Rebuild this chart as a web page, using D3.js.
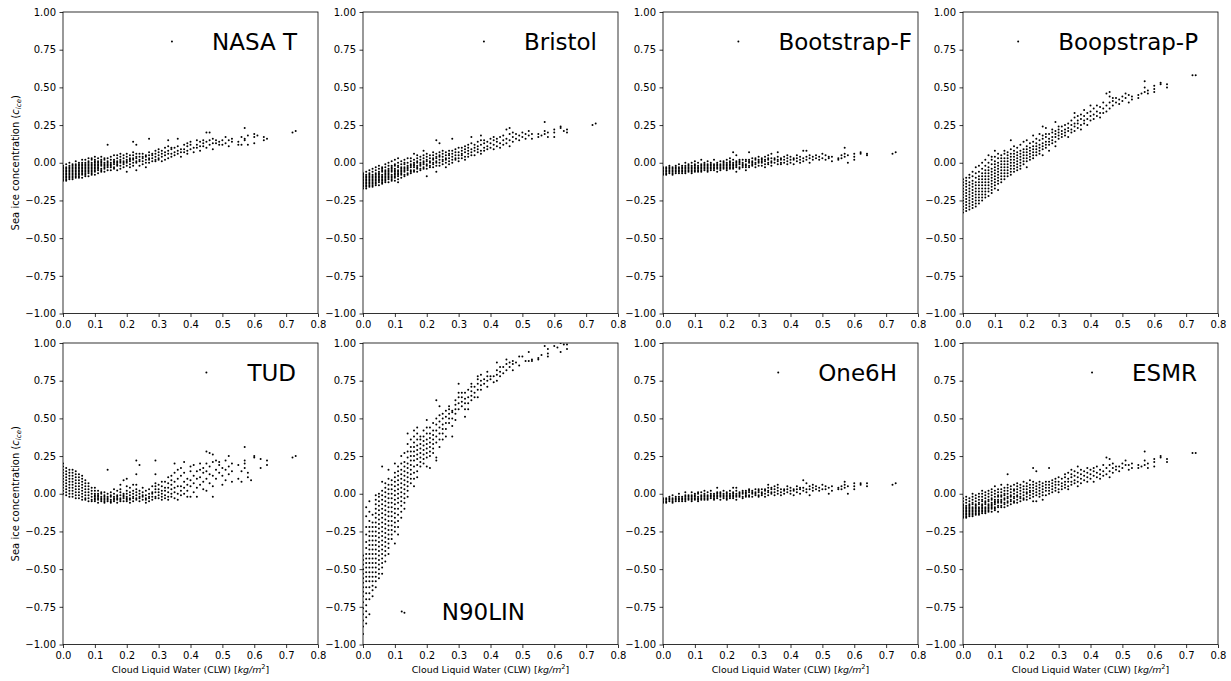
<!DOCTYPE html>
<html>
<head>
<meta charset="utf-8">
<script src="https://cdn.jsdelivr.net/npm/d3@7"></script>
<style>
  body { margin: 0; background: #fff; }
  text { font-family: "DejaVu Sans", sans-serif; }
</style>
</head>
<body>
<svg id="chart" width="1231" height="681"></svg>
<script>
// Axis ticks shared by all eight panels
const xTicks = [0, 0.1, 0.2, 0.3, 0.4, 0.5, 0.6, 0.7, 0.8];
const yTicks = [-1, -0.75, -0.5, -0.25, 0, 0.25, 0.5, 0.75, 1];

const panelNames = ["NASA T", "Bristol", "Bootstrap-F", "Boopstrap-P", "TUD", "N90LIN", "One6H", "ESMR"];

// Each row: [CLW, sea ice concentration values observed at that CLW ...]
const nasaT = [
  [0.00,-0.12,-0.11,-0.10,-0.09,-0.08,-0.07,-0.06,-0.05,-0.04,-0.03,-0.02],
  [0.01,-0.12,-0.11,-0.10,-0.09,-0.08,-0.07,-0.06,-0.05,-0.04,-0.03,-0.01],
  [0.02,-0.11,-0.10,-0.09,-0.08,-0.07,-0.06,-0.05,-0.04,-0.03,-0.02,0.00],
  [0.03,-0.11,-0.10,-0.09,-0.08,-0.07,-0.06,-0.05,-0.04,-0.03,-0.02,-0.01],
  [0.04,-0.10,-0.09,-0.08,-0.07,-0.06,-0.05,-0.04,-0.03,-0.02,-0.01,0.01],
  [0.05,-0.10,-0.09,-0.08,-0.07,-0.06,-0.05,-0.04,-0.03,-0.02,-0.01,0.00],
  [0.06,-0.10,-0.08,-0.07,-0.06,-0.05,-0.04,-0.03,-0.02,-0.01,0.00,0.02],
  [0.07,-0.09,-0.08,-0.07,-0.06,-0.05,-0.04,-0.03,-0.02,-0.01,0.00,0.02],
  [0.08,-0.09,-0.07,-0.06,-0.05,-0.04,-0.03,-0.02,-0.01,0.00,0.01,0.03],
  [0.09,-0.08,-0.07,-0.06,-0.05,-0.04,-0.03,-0.02,-0.01,0.00,0.02,0.03],
  [0.10,-0.08,-0.06,-0.05,-0.04,-0.03,-0.02,-0.01,0.00,0.01,0.02,0.04],
  [0.11,-0.07,-0.05,-0.04,-0.03,-0.02,-0.01,0.00,0.01,0.03],
  [0.12,-0.06,-0.05,-0.04,-0.02,-0.01,0.00,0.01,0.02,0.04],
  [0.13,-0.06,-0.04,-0.03,-0.02,-0.01,0.00,0.02,0.03],
  [0.14,-0.05,-0.03,-0.02,-0.01,0.00,0.01,0.03,0.12],
  [0.15,-0.05,-0.03,-0.02,-0.01,0.00,0.02,0.04],
  [0.16,-0.04,-0.03,-0.01,0.00,0.01,0.02,0.05],
  [0.17,-0.05,-0.02,-0.01,0.00,0.01,0.03,0.05],
  [0.18,-0.04,-0.02,0.00,0.01,0.02,0.04,0.06],
  [0.19,-0.03,-0.01,0.00,0.01,0.03,0.05],
  [0.20,-0.06,-0.02,0.00,0.01,0.02,0.04,0.06],
  [0.21,-0.03,-0.01,0.01,0.02,0.03,0.05],
  [0.22,-0.02,0.00,0.02,0.03,0.05,0.07,0.14],
  [0.23,-0.05,0.00,0.01,0.03,0.04,0.06,0.12],
  [0.24,-0.02,0.01,0.02,0.04,0.06],
  [0.25,-0.01,0.01,0.03,0.04,0.06],
  [0.26,-0.03,0.00,0.02,0.04,0.05],
  [0.27,0.00,0.02,0.03,0.05,0.07,0.16],
  [0.28,0.01,0.03,0.05,0.06],
  [0.29,0.01,0.02,0.04,0.06,0.08],
  [0.30,0.02,0.03,0.05,0.07,0.09],
  [0.31,0.01,0.04,0.06,0.08],
  [0.32,0.02,0.05,0.07,0.10],
  [0.33,0.03,0.06,0.08,0.11,0.15],
  [0.34,0.04,0.06,0.09,0.10],
  [0.35,0.05,0.07,0.10],
  [0.36,0.06,0.08,0.11,0.16],
  [0.37,0.04,0.07,0.09],
  [0.38,0.07,0.09,0.12],
  [0.39,0.06,0.08,0.11,0.13],
  [0.40,0.09,0.12,0.14],
  [0.41,0.07,0.10],
  [0.42,0.10,0.12,0.15],
  [0.43,0.08,0.11,0.14],
  [0.44,0.11,0.13,0.15],
  [0.45,0.10,0.14,0.20],
  [0.46,0.12,0.15,0.20],
  [0.47,0.09,0.13,0.16],
  [0.48,0.13,0.15],
  [0.49,0.12,0.14],
  [0.50,0.15,0.12],
  [0.51,0.17,0.13],
  [0.52,0.11,0.15],
  [0.53,0.14,0.16],
  [0.55,0.12,0.14],
  [0.56,0.17,0.12],
  [0.57,0.23,0.16,0.15],
  [0.58,0.18,0.12],
  [0.60,0.19,0.17,0.13],
  [0.61,0.18],
  [0.63,0.17,0.15],
  [0.64,0.16],
  [0.72,0.20],
  [0.73,0.21]
];

const bristol = [
  [0.00,-0.17,-0.16,-0.15,-0.14,-0.13,-0.12,-0.11,-0.10,-0.09,-0.08,-0.07],
  [0.01,-0.17,-0.16,-0.15,-0.14,-0.13,-0.12,-0.11,-0.10,-0.09,-0.08,-0.06],
  [0.02,-0.16,-0.15,-0.14,-0.13,-0.12,-0.11,-0.10,-0.09,-0.08,-0.07,-0.05],
  [0.03,-0.16,-0.15,-0.14,-0.13,-0.12,-0.11,-0.10,-0.09,-0.08,-0.06,-0.04],
  [0.04,-0.15,-0.14,-0.13,-0.12,-0.11,-0.10,-0.09,-0.08,-0.07,-0.05,-0.03],
  [0.05,-0.15,-0.13,-0.12,-0.11,-0.10,-0.09,-0.08,-0.07,-0.06,-0.04,-0.02],
  [0.06,-0.14,-0.13,-0.12,-0.11,-0.10,-0.09,-0.08,-0.06,-0.05,-0.04,-0.03],
  [0.07,-0.13,-0.12,-0.11,-0.10,-0.09,-0.08,-0.07,-0.06,-0.05,-0.03,-0.01],
  [0.08,-0.13,-0.11,-0.10,-0.09,-0.08,-0.07,-0.06,-0.05,-0.04,-0.02,0.00],
  [0.09,-0.12,-0.11,-0.10,-0.09,-0.08,-0.06,-0.05,-0.04,-0.03,-0.02,0.01],
  [0.10,-0.12,-0.10,-0.09,-0.08,-0.07,-0.06,-0.05,-0.04,-0.02,-0.01,0.02],
  [0.11,-0.13,-0.11,-0.09,-0.08,-0.07,-0.06,-0.05,-0.03,-0.02,0.00,0.03],
  [0.12,-0.10,-0.08,-0.07,-0.06,-0.05,-0.04,-0.03,-0.01,0.01],
  [0.13,-0.09,-0.08,-0.06,-0.05,-0.04,-0.03,-0.01,0.00,0.02],
  [0.14,-0.08,-0.07,-0.05,-0.04,-0.03,-0.02,0.00,0.03],
  [0.15,-0.07,-0.06,-0.05,-0.03,-0.02,-0.01,0.01,0.03],
  [0.16,-0.06,-0.05,-0.03,-0.02,-0.01,0.00,0.02,0.06],
  [0.17,-0.06,-0.04,-0.03,-0.02,0.00,0.01,0.03,0.05],
  [0.18,-0.05,-0.04,-0.02,-0.01,0.00,0.02,0.04],
  [0.19,-0.04,-0.03,-0.01,0.00,0.01,0.03,0.05,0.08],
  [0.20,-0.09,-0.04,-0.02,-0.01,0.01,0.02,0.04,0.06],
  [0.21,-0.03,-0.02,0.00,0.01,0.03,0.05],
  [0.22,-0.03,-0.01,0.00,0.02,0.03,0.05,0.07],
  [0.23,-0.06,-0.02,0.00,0.01,0.03,0.04,0.06,0.15],
  [0.24,-0.02,0.00,0.02,0.04,0.05,0.07,0.13],
  [0.25,-0.01,0.01,0.02,0.04,0.06,0.08],
  [0.26,-0.03,0.00,0.02,0.03,0.05,0.07],
  [0.27,-0.01,0.01,0.03,0.05,0.06,0.08],
  [0.28,0.00,0.02,0.04,0.06,0.08,0.16],
  [0.29,0.02,0.03,0.05,0.07,0.09],
  [0.30,0.01,0.03,0.05,0.07,0.10],
  [0.31,0.03,0.05,0.06,0.08,0.10],
  [0.32,0.02,0.04,0.07,0.09,0.11],
  [0.33,0.04,0.06,0.08,0.10,0.12],
  [0.34,0.05,0.07,0.09,0.13,0.17],
  [0.35,0.05,0.08,0.10,0.12],
  [0.36,0.07,0.09,0.11,0.14],
  [0.37,0.06,0.08,0.12,0.15,0.18],
  [0.38,0.08,0.10,0.13,0.15],
  [0.39,0.09,0.11,0.14],
  [0.40,0.10,0.13,0.16],
  [0.41,0.09,0.12,0.15,0.17],
  [0.42,0.11,0.14,0.16],
  [0.43,0.10,0.13,0.17],
  [0.44,0.12,0.15,0.18],
  [0.45,0.13,0.16,0.22],
  [0.46,0.11,0.15,0.19,0.23],
  [0.47,0.14,0.17,0.20],
  [0.48,0.16,0.19],
  [0.49,0.15,0.18],
  [0.50,0.17,0.20],
  [0.51,0.19,0.16],
  [0.52,0.18,0.21],
  [0.53,0.16,0.19],
  [0.55,0.17,0.19],
  [0.56,0.18],
  [0.57,0.27,0.21,0.19],
  [0.58,0.20,0.17],
  [0.60,0.22,0.20,0.17],
  [0.62,0.24,0.23],
  [0.63,0.21],
  [0.64,0.22,0.20],
  [0.72,0.25],
  [0.73,0.26]
];

const bootstrapF = [
  [0.00,-0.08,-0.07,-0.06,-0.05,-0.04,-0.03],
  [0.01,-0.08,-0.07,-0.06,-0.05,-0.04,-0.03],
  [0.02,-0.07,-0.06,-0.05,-0.04,-0.03,-0.02],
  [0.03,-0.08,-0.07,-0.06,-0.05,-0.04,-0.03],
  [0.04,-0.07,-0.06,-0.05,-0.04,-0.03,-0.02],
  [0.05,-0.07,-0.06,-0.05,-0.04,-0.03,-0.01],
  [0.06,-0.07,-0.06,-0.05,-0.04,-0.03,-0.02],
  [0.07,-0.07,-0.06,-0.05,-0.04,-0.03,-0.02,0.00],
  [0.08,-0.06,-0.05,-0.04,-0.03,-0.02,-0.01],
  [0.09,-0.07,-0.06,-0.05,-0.04,-0.03,-0.02,0.00],
  [0.10,-0.06,-0.05,-0.04,-0.03,-0.02,-0.01,0.01],
  [0.11,-0.06,-0.05,-0.04,-0.03,-0.02,0.00],
  [0.12,-0.06,-0.05,-0.04,-0.03,-0.02,-0.01,0.02],
  [0.13,-0.05,-0.04,-0.03,-0.02,-0.01,0.00],
  [0.14,-0.06,-0.05,-0.04,-0.03,-0.02,-0.01,0.01],
  [0.15,-0.05,-0.04,-0.03,-0.02,-0.01,0.00],
  [0.16,-0.05,-0.04,-0.03,-0.02,-0.01,0.02],
  [0.17,-0.06,-0.04,-0.03,-0.02,-0.01,0.00],
  [0.18,-0.05,-0.04,-0.03,-0.02,-0.01,0.01],
  [0.19,-0.04,-0.03,-0.02,-0.01,0.00,0.01],
  [0.20,-0.05,-0.04,-0.03,-0.02,-0.01,0.00,0.02],
  [0.21,-0.04,-0.03,-0.02,-0.01,0.00,0.01,0.03],
  [0.22,-0.04,-0.03,-0.02,-0.01,0.00,0.02,0.07],
  [0.23,-0.06,-0.03,-0.02,-0.01,0.00,0.01,0.05],
  [0.24,-0.04,-0.03,-0.01,0.00,0.01,0.02],
  [0.25,-0.03,-0.02,-0.01,0.00,0.02],
  [0.26,-0.05,-0.03,-0.02,-0.01,0.01,0.02],
  [0.27,-0.03,-0.02,0.00,0.01,0.02,0.07],
  [0.28,-0.02,-0.01,0.00,0.01,0.03],
  [0.29,-0.03,-0.01,0.00,0.02,0.03],
  [0.30,-0.02,0.00,0.01,0.02,0.04],
  [0.31,-0.02,0.00,0.01,0.02,0.03],
  [0.32,-0.03,-0.01,0.01,0.02,0.04],
  [0.33,-0.01,0.00,0.02,0.03,0.05],
  [0.34,-0.02,0.00,0.01,0.03,0.06],
  [0.35,0.00,0.02,0.03],
  [0.36,-0.01,0.01,0.02,0.04,0.07],
  [0.37,-0.01,0.00,0.02,0.03],
  [0.38,0.00,0.02,0.04],
  [0.39,-0.01,0.01,0.03,0.05],
  [0.40,0.00,0.02,0.04],
  [0.41,-0.01,0.02,0.03],
  [0.42,0.01,0.03,0.05],
  [0.43,0.00,0.02,0.04],
  [0.44,0.01,0.03,0.08],
  [0.45,0.02,0.04,0.08],
  [0.46,0.00,0.03,0.05],
  [0.47,0.02,0.04],
  [0.48,0.03,0.05],
  [0.49,0.02,0.04],
  [0.50,0.03,0.06],
  [0.51,0.05,0.02],
  [0.52,0.04,0.03],
  [0.53,0.01,0.04],
  [0.55,0.02,0.03],
  [0.56,0.05,0.03],
  [0.57,0.10,0.06,0.04],
  [0.58,0.05,0.00],
  [0.60,0.06,0.04,0.02],
  [0.62,0.07,0.06],
  [0.64,0.06,0.05],
  [0.72,0.06],
  [0.73,0.07]
];

const boopstrapP = [
  [0.00,-0.33,-0.31,-0.29,-0.27,-0.25,-0.23,-0.21,-0.19,-0.17,-0.15,-0.13,-0.11],
  [0.01,-0.32,-0.30,-0.28,-0.26,-0.24,-0.22,-0.20,-0.18,-0.16,-0.14,-0.12,-0.10],
  [0.02,-0.31,-0.29,-0.27,-0.25,-0.23,-0.21,-0.19,-0.17,-0.15,-0.13,-0.10,-0.08],
  [0.03,-0.30,-0.28,-0.26,-0.24,-0.22,-0.20,-0.18,-0.16,-0.14,-0.12,-0.09,-0.06],
  [0.04,-0.29,-0.27,-0.25,-0.23,-0.21,-0.19,-0.17,-0.15,-0.13,-0.10,-0.07,-0.03],
  [0.05,-0.27,-0.25,-0.23,-0.21,-0.19,-0.17,-0.15,-0.13,-0.11,-0.09,-0.06,-0.02],
  [0.06,-0.25,-0.23,-0.21,-0.19,-0.17,-0.15,-0.13,-0.11,-0.09,-0.07,-0.04,0.00],
  [0.07,-0.23,-0.21,-0.19,-0.17,-0.15,-0.13,-0.11,-0.09,-0.07,-0.05,-0.02,0.02],
  [0.08,-0.22,-0.19,-0.17,-0.15,-0.13,-0.11,-0.09,-0.07,-0.05,-0.03,0.00,0.05],
  [0.09,-0.20,-0.18,-0.16,-0.14,-0.12,-0.10,-0.08,-0.06,-0.04,-0.01,0.02,0.04],
  [0.10,-0.17,-0.15,-0.13,-0.11,-0.09,-0.07,-0.05,-0.03,-0.01,0.01,0.04,0.08],
  [0.11,-0.18,-0.14,-0.12,-0.10,-0.08,-0.06,-0.04,-0.02,0.00,0.03,0.06],
  [0.12,-0.13,-0.11,-0.09,-0.07,-0.05,-0.03,-0.01,0.01,0.03,0.05],
  [0.13,-0.11,-0.09,-0.07,-0.05,-0.03,-0.01,0.01,0.03,0.06,0.08],
  [0.14,-0.09,-0.07,-0.05,-0.03,-0.01,0.01,0.03,0.05,0.07],
  [0.15,-0.08,-0.06,-0.04,-0.02,0.00,0.02,0.04,0.06,0.09,0.15],
  [0.16,-0.06,-0.04,-0.02,0.00,0.02,0.04,0.06,0.08,0.11],
  [0.17,-0.05,-0.03,-0.01,0.01,0.03,0.05,0.07,0.10],
  [0.18,-0.04,-0.02,0.00,0.02,0.04,0.06,0.08,0.12],
  [0.19,-0.01,0.01,0.03,0.05,0.07,0.09,0.14],
  [0.20,-0.03,0.01,0.03,0.05,0.07,0.09,0.11,0.15],
  [0.21,0.02,0.04,0.06,0.08,0.10,0.13],
  [0.22,0.03,0.05,0.07,0.09,0.11,0.14,0.18],
  [0.23,0.05,0.07,0.09,0.11,0.13,0.16],
  [0.24,0.06,0.08,0.10,0.12,0.15,0.19],
  [0.25,0.05,0.09,0.11,0.13,0.16,0.18,0.24],
  [0.26,0.10,0.12,0.14,0.17,0.19,0.23],
  [0.27,0.08,0.12,0.14,0.16,0.19],
  [0.28,0.13,0.15,0.17,0.20,0.22],
  [0.29,0.11,0.14,0.17,0.19,0.21,0.27],
  [0.30,0.16,0.18,0.20,0.22,0.24],
  [0.31,0.17,0.19,0.21,0.24],
  [0.32,0.18,0.20,0.22,0.25],
  [0.33,0.17,0.21,0.23,0.26],
  [0.34,0.20,0.22,0.25,0.28],
  [0.35,0.21,0.24,0.26,0.30,0.33],
  [0.36,0.23,0.26,0.28,0.31],
  [0.37,0.22,0.25,0.29,0.32],
  [0.38,0.26,0.28,0.31,0.35],
  [0.39,0.25,0.29,0.33],
  [0.40,0.28,0.31,0.34,0.38],
  [0.41,0.29,0.32,0.36],
  [0.42,0.31,0.34,0.38],
  [0.43,0.30,0.33,0.37],
  [0.44,0.33,0.36,0.40],
  [0.45,0.34,0.38,0.46],
  [0.46,0.36,0.40,0.44,0.47],
  [0.47,0.38,0.41,0.43],
  [0.48,0.40,0.43],
  [0.49,0.39,0.42],
  [0.50,0.41,0.44],
  [0.51,0.43,0.46],
  [0.52,0.40,0.45],
  [0.53,0.42,0.44],
  [0.55,0.45,0.43],
  [0.56,0.46],
  [0.57,0.54,0.50,0.47],
  [0.58,0.48,0.46],
  [0.60,0.51,0.49,0.47],
  [0.62,0.53,0.52],
  [0.64,0.52,0.50],
  [0.72,0.58],
  [0.73,0.58]
];

const tud = [
  [0.00,0.00,0.02,0.04,0.06,0.08,0.10,0.12,0.14,0.16,0.18,0.20],
  [0.01,-0.01,0.01,0.03,0.05,0.07,0.09,0.11,0.13,0.15,0.17],
  [0.02,-0.02,0.00,0.02,0.04,0.06,0.08,0.10,0.12,0.14,0.16],
  [0.03,-0.02,0.00,0.02,0.04,0.06,0.08,0.10,0.12,0.14,0.16],
  [0.04,-0.03,-0.01,0.01,0.03,0.05,0.07,0.09,0.11,0.13,0.15],
  [0.05,-0.03,-0.01,0.01,0.03,0.05,0.07,0.09,0.11,0.13],
  [0.06,-0.04,-0.02,0.00,0.02,0.04,0.06,0.08,0.10,0.12],
  [0.07,-0.04,-0.03,-0.01,0.01,0.03,0.05,0.07,0.09],
  [0.08,-0.05,-0.03,-0.01,0.01,0.03,0.05,0.07],
  [0.09,-0.05,-0.04,-0.02,0.00,0.02,0.04],
  [0.10,-0.05,-0.04,-0.03,-0.02,-0.01,0.00,0.02,0.04],
  [0.11,-0.06,-0.04,-0.03,-0.02,-0.01,0.00,0.02],
  [0.12,-0.05,-0.04,-0.03,-0.02,0.00,0.01],
  [0.13,-0.06,-0.05,-0.04,-0.03,-0.02,-0.01,0.01],
  [0.14,-0.05,-0.04,-0.03,-0.02,0.00,0.16],
  [0.15,-0.06,-0.05,-0.04,-0.02,-0.01,0.01],
  [0.16,-0.05,-0.04,-0.03,-0.02,0.00,0.03],
  [0.17,-0.06,-0.04,-0.03,-0.02,-0.01,0.02],
  [0.18,-0.05,-0.04,-0.03,-0.01,0.01,0.03,0.06],
  [0.19,-0.05,-0.03,-0.02,-0.01,0.00,0.09],
  [0.20,-0.05,-0.04,-0.03,-0.02,0.00,0.02,0.05,0.10],
  [0.21,-0.06,-0.04,-0.03,-0.01,0.01,0.04],
  [0.22,-0.05,-0.03,-0.02,0.00,0.02,0.06],
  [0.23,-0.04,-0.03,-0.01,0.01,0.03,0.06,0.13,0.22],
  [0.24,-0.05,-0.03,-0.02,0.00,0.02,0.19],
  [0.25,-0.04,-0.02,-0.01,0.01,0.04],
  [0.26,-0.06,-0.04,-0.03,-0.01,0.02],
  [0.27,-0.05,-0.03,-0.02,0.00,0.03],
  [0.28,-0.04,-0.02,0.00,0.01,0.05],
  [0.29,-0.03,-0.02,0.01,0.03,0.05,0.07,0.13,0.22],
  [0.30,-0.03,-0.01,0.01,0.03,0.06],
  [0.31,-0.04,-0.02,0.00,0.02,0.05,0.08],
  [0.32,-0.03,-0.01,0.02,0.04,0.08],
  [0.33,-0.04,-0.02,0.01,0.04,0.07,0.11],
  [0.34,-0.02,0.00,0.03,0.06,0.09,0.12],
  [0.35,-0.03,0.01,0.04,0.08,0.14,0.20],
  [0.36,-0.04,0.00,0.05,0.10,0.16],
  [0.37,-0.01,0.02,0.05,0.12,0.17],
  [0.38,0.00,0.04,0.08,0.14,0.21],
  [0.39,-0.02,0.02,0.06,0.10],
  [0.40,-0.02,0.05,0.09,0.15,0.18],
  [0.41,0.01,0.07,0.12,0.19],
  [0.42,-0.02,0.04,0.10,0.15],
  [0.43,0.06,0.11,0.16,0.20],
  [0.44,0.03,0.08,0.14,0.17],
  [0.45,0.02,0.10,0.15,0.20,0.28],
  [0.46,0.07,0.13,0.18,0.27],
  [0.47,-0.02,0.05,0.12,0.21,0.26],
  [0.48,0.10,0.16,0.22],
  [0.49,0.14,0.19,0.21],
  [0.50,0.06,0.12,0.17],
  [0.51,0.09,0.16,0.22],
  [0.52,0.13,0.18,0.25],
  [0.53,0.08,0.15,0.20],
  [0.55,0.10,0.19],
  [0.56,0.08,0.15],
  [0.57,0.31,0.22,0.20,0.17],
  [0.58,0.14,0.11],
  [0.59,0.09],
  [0.60,0.25,0.24],
  [0.62,0.23,0.17],
  [0.64,0.22,0.19],
  [0.72,0.24],
  [0.73,0.25]
];

const n90lin = [
  [0.00,-0.93,-0.88,-0.84,-0.80,-0.76,-0.72,-0.68,-0.65,-0.62,-0.59,-0.56,-0.53,-0.50,-0.47,-0.44,-0.41],
  [0.01,-0.86,-0.82,-0.78,-0.74,-0.70,-0.66,-0.62,-0.58,-0.55,-0.52,-0.49,-0.46,-0.43,-0.40,-0.36,-0.32,-0.27,-0.22,-0.15,-0.09],
  [0.02,-0.80,-0.70,-0.66,-0.62,-0.58,-0.55,-0.52,-0.49,-0.46,-0.43,-0.40,-0.37,-0.34,-0.31,-0.28,-0.25,-0.22,-0.18,-0.12,-0.05],
  [0.03,-0.68,-0.64,-0.61,-0.58,-0.55,-0.52,-0.49,-0.46,-0.43,-0.40,-0.37,-0.34,-0.31,-0.28,-0.25,-0.22,-0.19,-0.14],
  [0.04,-0.62,-0.58,-0.55,-0.52,-0.49,-0.46,-0.43,-0.40,-0.37,-0.34,-0.31,-0.28,-0.25,-0.22,-0.19,-0.16,-0.13,-0.10,-0.07,-0.04,-0.01],
  [0.05,-0.56,-0.53,-0.50,-0.47,-0.44,-0.41,-0.38,-0.35,-0.32,-0.29,-0.26,-0.23,-0.20,-0.17,-0.14,-0.11,-0.08,-0.05,-0.02,0.00],
  [0.06,-0.53,-0.49,-0.46,-0.43,-0.40,-0.37,-0.34,-0.31,-0.28,-0.25,-0.22,-0.19,-0.16,-0.13,-0.10,-0.07,-0.04,-0.01,0.02,0.08,0.18],
  [0.07,-0.45,-0.41,-0.38,-0.35,-0.32,-0.29,-0.26,-0.23,-0.20,-0.17,-0.14,-0.11,-0.08,-0.05,-0.02,0.01,0.04,0.07],
  [0.08,-0.40,-0.36,-0.33,-0.30,-0.27,-0.24,-0.21,-0.18,-0.15,-0.12,-0.09,-0.06,-0.03,0.00,0.03,0.06,0.10,0.16],
  [0.09,-0.30,-0.27,-0.24,-0.21,-0.18,-0.15,-0.12,-0.09,-0.06,-0.03,0.00,0.03,0.06,0.09],
  [0.10,-0.33,-0.25,-0.22,-0.19,-0.16,-0.13,-0.10,-0.07,-0.04,-0.01,0.02,0.05,0.08,0.11,0.14,0.20],
  [0.11,-0.27,-0.22,-0.18,-0.14,-0.10,-0.06,-0.03,0.00,0.03,0.06,0.09,0.12,0.15,0.18],
  [0.12,-0.16,-0.12,-0.08,-0.05,-0.02,0.01,0.04,0.07,0.10,0.13,0.16,0.20,0.25],
  [0.13,-0.79,-0.10,-0.06,-0.03,0.00,0.03,0.06,0.09,0.12,0.15,0.18,0.21,0.27],
  [0.14,-0.02,0.02,0.05,0.08,0.11,0.14,0.17,0.20,0.24,0.28,0.33,0.40],
  [0.15,0.07,0.10,0.13,0.16,0.19,0.22,0.25,0.28,0.31,0.36],
  [0.16,0.05,0.10,0.14,0.18,0.22,0.25,0.28,0.31,0.34,0.38,0.42],
  [0.17,0.11,0.15,0.19,0.23,0.26,0.29,0.32,0.36,0.40,0.44],
  [0.18,0.18,0.21,0.24,0.27,0.30,0.33,0.36,0.38],
  [0.19,0.20,0.23,0.26,0.29,0.32,0.35,0.38,0.42],
  [0.20,0.18,0.24,0.27,0.30,0.33,0.36,0.40,0.44,0.49],
  [0.21,0.17,0.25,0.28,0.31,0.34,0.37,0.40,0.44],
  [0.22,0.27,0.30,0.33,0.36,0.39,0.42,0.47],
  [0.23,0.22,0.24,0.34,0.38,0.42,0.46,0.50,0.62],
  [0.24,0.31,0.36,0.40,0.44,0.48,0.52,0.58],
  [0.25,0.36,0.40,0.43,0.46,0.50,0.53],
  [0.26,0.38,0.43,0.47,0.51,0.55],
  [0.27,0.47,0.50,0.53,0.56,0.58],
  [0.28,0.38,0.45,0.50,0.54,0.55],
  [0.29,0.49,0.53,0.56,0.59,0.62],
  [0.30,0.56,0.60,0.64,0.67,0.73],
  [0.31,0.58,0.61,0.64,0.67],
  [0.32,0.51,0.56,0.60,0.63,0.67],
  [0.33,0.56,0.60,0.64,0.69],
  [0.34,0.62,0.65,0.68,0.71,0.73],
  [0.35,0.64,0.67,0.71],
  [0.36,0.64,0.69,0.73,0.76,0.78],
  [0.37,0.69,0.72,0.75,0.79],
  [0.38,0.73,0.76],
  [0.39,0.71,0.75,0.78,0.81],
  [0.40,0.76,0.78],
  [0.41,0.78,0.74],
  [0.42,0.75,0.79,0.82,0.87],
  [0.43,0.78,0.81,0.84],
  [0.44,0.80,0.84],
  [0.45,0.82,0.86,0.89],
  [0.46,0.84,0.87],
  [0.47,0.82,0.86,0.88],
  [0.48,0.87],
  [0.49,0.85,0.91],
  [0.50,0.91],
  [0.51,0.88],
  [0.52,0.94,0.88],
  [0.53,0.89,0.88],
  [0.55,0.90,0.89],
  [0.56,0.92],
  [0.57,0.98],
  [0.58,0.96,0.93,0.91],
  [0.60,0.98],
  [0.61,0.97],
  [0.62,1.00,0.94],
  [0.63,0.99],
  [0.64,0.99,0.96]
];

const one6H = [
  [0.00,-0.06,-0.05,-0.04,-0.03],
  [0.01,-0.06,-0.05,-0.04,-0.03],
  [0.02,-0.05,-0.04,-0.03,-0.02],
  [0.03,-0.06,-0.05,-0.04,-0.03,-0.01],
  [0.04,-0.05,-0.04,-0.03,-0.02],
  [0.05,-0.05,-0.04,-0.03,-0.02,0.00],
  [0.06,-0.05,-0.04,-0.03,-0.02],
  [0.07,-0.05,-0.04,-0.03,-0.02,-0.01,0.01],
  [0.08,-0.04,-0.03,-0.02,-0.01],
  [0.09,-0.05,-0.04,-0.03,-0.02,-0.01,0.01],
  [0.10,-0.04,-0.03,-0.02,-0.01,0.00],
  [0.11,-0.05,-0.04,-0.03,-0.02,0.00,0.01],
  [0.12,-0.04,-0.03,-0.02,-0.01,0.01],
  [0.13,-0.04,-0.03,-0.02,-0.01,0.00,0.02],
  [0.14,-0.04,-0.03,-0.02,-0.01,0.01],
  [0.15,-0.03,-0.02,-0.01,0.00,0.02],
  [0.16,-0.04,-0.03,-0.02,-0.01,0.00],
  [0.17,-0.03,-0.02,-0.01,0.00,0.01,0.04],
  [0.18,-0.04,-0.02,-0.01,0.00,0.01],
  [0.19,-0.03,-0.02,-0.01,0.00,0.02],
  [0.20,-0.04,-0.03,-0.02,-0.01,0.00,0.01],
  [0.21,-0.03,-0.02,-0.01,0.00,0.02],
  [0.22,-0.03,-0.02,-0.01,0.00,0.01,0.04],
  [0.23,-0.04,-0.02,-0.01,0.00,0.02,0.04],
  [0.24,-0.02,-0.01,0.00,0.01],
  [0.25,-0.03,-0.02,0.00,0.01,0.02],
  [0.26,-0.02,-0.01,0.00,0.01,0.02],
  [0.27,-0.02,-0.01,0.01,0.02,0.03],
  [0.28,-0.02,0.00,0.01,0.02],
  [0.29,-0.01,0.00,0.01,0.03],
  [0.30,-0.02,-0.01,0.01,0.02,0.03],
  [0.31,-0.01,0.00,0.01,0.03],
  [0.32,-0.02,0.00,0.02,0.03],
  [0.33,-0.01,0.01,0.02,0.04,0.06],
  [0.34,0.00,0.01,0.03,0.04],
  [0.35,-0.01,0.01,0.03,0.05],
  [0.36,0.00,0.02,0.04,0.06],
  [0.37,-0.01,0.01,0.03],
  [0.38,0.00,0.02,0.03],
  [0.39,0.01,0.03,0.05],
  [0.40,0.00,0.02,0.04],
  [0.41,-0.01,0.02,0.03],
  [0.42,0.01,0.03,0.05],
  [0.43,0.00,0.03,0.04],
  [0.44,0.02,0.04,0.09],
  [0.45,0.01,0.03,0.07],
  [0.46,-0.01,0.03,0.05],
  [0.47,0.02,0.04,0.06],
  [0.48,0.03,0.05],
  [0.49,0.02,0.04],
  [0.50,0.03,0.06],
  [0.51,0.05,0.03],
  [0.52,0.00,0.04],
  [0.53,0.02,0.05],
  [0.55,0.03,0.04],
  [0.56,0.05,0.03],
  [0.57,0.08,0.06,0.04],
  [0.58,0.05,0.00],
  [0.60,0.07,0.05,0.03],
  [0.62,0.07,0.06],
  [0.64,0.07,0.05],
  [0.72,0.06],
  [0.73,0.07]
];

const esmr = [
  [0.00,-0.16,-0.15,-0.14,-0.13,-0.12,-0.11,-0.10,-0.09,-0.08,-0.07,-0.05,-0.03],
  [0.01,-0.16,-0.15,-0.14,-0.13,-0.12,-0.11,-0.10,-0.09,-0.08,-0.06,-0.04,-0.02],
  [0.02,-0.15,-0.14,-0.13,-0.12,-0.11,-0.10,-0.09,-0.08,-0.07,-0.05,-0.03],
  [0.03,-0.15,-0.14,-0.13,-0.12,-0.11,-0.10,-0.09,-0.07,-0.06,-0.04,-0.02,0.00],
  [0.04,-0.14,-0.13,-0.12,-0.11,-0.10,-0.09,-0.08,-0.07,-0.05,-0.03,-0.01],
  [0.05,-0.14,-0.13,-0.12,-0.11,-0.10,-0.09,-0.07,-0.06,-0.04,-0.02,0.00],
  [0.06,-0.13,-0.12,-0.11,-0.10,-0.09,-0.08,-0.07,-0.05,-0.04,-0.02,0.00,0.02],
  [0.07,-0.13,-0.12,-0.11,-0.10,-0.09,-0.07,-0.06,-0.05,-0.03,-0.01,0.01],
  [0.08,-0.12,-0.11,-0.10,-0.09,-0.08,-0.07,-0.05,-0.04,-0.02,0.00,0.02],
  [0.09,-0.12,-0.10,-0.09,-0.08,-0.07,-0.06,-0.04,-0.03,-0.01,0.01,0.03],
  [0.10,-0.11,-0.10,-0.09,-0.07,-0.06,-0.05,-0.04,-0.02,0.00,0.02,0.05],
  [0.11,-0.12,-0.09,-0.08,-0.06,-0.05,-0.04,-0.02,-0.01,0.01,0.03],
  [0.12,-0.09,-0.08,-0.06,-0.05,-0.04,-0.02,-0.01,0.01,0.03,0.06],
  [0.13,-0.09,-0.07,-0.06,-0.04,-0.03,-0.01,0.00,0.02,0.04],
  [0.14,-0.08,-0.06,-0.05,-0.03,-0.02,0.00,0.02,0.04,0.06,0.13],
  [0.15,-0.07,-0.05,-0.04,-0.02,-0.01,0.01,0.03,0.05],
  [0.16,-0.06,-0.05,-0.03,-0.02,0.00,0.02,0.03,0.06],
  [0.17,-0.06,-0.04,-0.02,-0.01,0.01,0.03,0.05,0.07],
  [0.18,-0.05,-0.03,-0.02,0.00,0.02,0.04,0.06],
  [0.19,-0.04,-0.03,-0.01,0.01,0.03,0.05,0.08],
  [0.20,-0.04,-0.02,0.00,0.01,0.03,0.05,0.07],
  [0.21,-0.03,-0.01,0.01,0.02,0.04,0.06,0.09],
  [0.22,-0.05,-0.02,0.00,0.02,0.04,0.06,0.08,0.17],
  [0.23,-0.05,-0.01,0.01,0.03,0.05,0.07,0.15],
  [0.24,-0.02,0.00,0.02,0.04,0.06,0.08],
  [0.25,-0.04,-0.01,0.01,0.03,0.05,0.07],
  [0.26,-0.01,0.02,0.04,0.06,0.08],
  [0.27,0.00,0.02,0.04,0.06,0.08,0.17],
  [0.28,0.01,0.03,0.05,0.07,0.09],
  [0.29,0.02,0.04,0.06,0.08,0.10],
  [0.30,0.01,0.03,0.06,0.08,0.11],
  [0.31,0.03,0.05,0.07,0.10],
  [0.32,0.04,0.06,0.08,0.11,0.13],
  [0.33,0.03,0.05,0.08,0.10,0.14],
  [0.34,0.06,0.08,0.11,0.13,0.16],
  [0.35,0.07,0.09,0.12,0.15],
  [0.36,0.05,0.08,0.11,0.14,0.18],
  [0.37,0.07,0.10,0.13,0.16],
  [0.38,0.09,0.12,0.15],
  [0.39,0.08,0.11,0.14,0.17],
  [0.40,0.10,0.13,0.16],
  [0.41,0.08,0.12,0.15,0.17],
  [0.42,0.11,0.14,0.18],
  [0.43,0.10,0.13,0.16],
  [0.44,0.12,0.15,0.19],
  [0.45,0.13,0.17,0.24],
  [0.46,0.11,0.15,0.19,0.23],
  [0.47,0.14,0.17,0.20],
  [0.48,0.16,0.18],
  [0.49,0.15,0.18],
  [0.50,0.17,0.20],
  [0.51,0.19,0.22],
  [0.52,0.16,0.19],
  [0.53,0.17,0.20],
  [0.55,0.17,0.19],
  [0.56,0.18],
  [0.57,0.28,0.22,0.19],
  [0.58,0.20,0.17],
  [0.60,0.23,0.21,0.18],
  [0.62,0.25,0.24],
  [0.64,0.23,0.21],
  [0.72,0.27],
  [0.73,0.27]
];

const panelData = [nasaT, bristol, bootstrapF, boopstrapP, tud, n90lin, one6H, esmr];

// Legend placement inside each panel: right end of the label and its baseline (px from panel origin)
const legendEnd = [234, 234, 249, 235, 233, 162, 234, 234];
const legendBaseline = [38, 38, 38, 38, 38, 277, 38, 38];

// ---- layout ----
const W = 255, H = 301.5;
const lefts = [63, 363, 663, 963];
const tops = [12, 343];

const svg = d3.select("#chart");
const x = d3.scaleLinear().domain([0, 0.8]).range([0, W]);
const y = d3.scaleLinear().domain([-1, 1]).range([H, 0]);
const fmtY = v => d3.format(".2f")(v).replace("-", "\u2212");
const fmtX = d3.format(".1f");

svg.append("defs").append("clipPath").attr("id", "plotClip")
  .append("rect").attr("x", 0).attr("y", 0).attr("width", W).attr("height", H);

panelNames.forEach((name, i) => {
  const col = i % 4, row = Math.floor(i / 4);
  const g = svg.append("g").attr("transform", `translate(${lefts[col]},${tops[row]})`);

  // scatter points
  const pts = [];
  panelData[i].forEach(r => { for (let k = 1; k < r.length; k++) pts.push([r[0], r[k]]); });
  g.append("g").attr("clip-path", "url(#plotClip)")
    .selectAll("circle").data(pts).join("circle")
    .attr("cx", d => x(d[0])).attr("cy", d => y(d[1]))
    .attr("r", 1.0).attr("fill", "#000");

  // axes
  const ax = g.append("g").attr("transform", `translate(0,${H})`)
    .call(d3.axisBottom(x).tickValues(xTicks).tickFormat(fmtX).tickSize(3.5).tickPadding(3.5).tickSizeOuter(0));
  const ay = g.append("g")
    .call(d3.axisLeft(y).tickValues(yTicks).tickFormat(fmtY).tickSize(3.5).tickPadding(3.5).tickSizeOuter(0));
  [ax, ay].forEach(a => {
    a.select(".domain").remove();
    a.selectAll("line").attr("stroke", "#000").attr("stroke-width", 0.8);
    a.selectAll("text").attr("font-size", "10px").attr("fill", "#000")
      .attr("font-family", "DejaVu Sans, sans-serif");
  });

  // frame
  g.append("rect").attr("x", 0).attr("y", 0).attr("width", W).attr("height", H)
    .attr("fill", "none").attr("stroke", "#000").attr("stroke-width", 0.8);

  // legend: marker + label
  const lbl = g.append("text").attr("x", legendEnd[i]).attr("y", legendBaseline[i])
    .attr("text-anchor", "end").attr("font-size", "23px").attr("fill", "#000").text(name);
  const bb = lbl.node().getBBox();
  g.append("circle").attr("cx", bb.x - 40).attr("cy", legendBaseline[i] - 8.5)
    .attr("r", 1.0).attr("fill", "#000");

  // axis titles
  if (row === 1) {
    const t = g.append("text").attr("x", W / 2).attr("y", H + 28.5)
      .attr("text-anchor", "middle").attr("font-size", "9.4px").attr("fill", "#000");
    t.append("tspan").text("Cloud Liquid Water (CLW) [");
    t.append("tspan").attr("font-style", "italic").text("kg/m");
    t.append("tspan").attr("font-size", "6.6px").attr("dy", -4).text("2");
    t.append("tspan").attr("dy", 4).text("]");
  }
  if (col === 0) {
    const t = g.append("text")
      .attr("transform", `translate(${19 - lefts[0]},${H / 2}) rotate(-90)`)
      .attr("text-anchor", "middle").attr("font-size", "10px").attr("fill", "#000");
    t.append("tspan").text("Sea ice concentration (");
    t.append("tspan").attr("font-style", "italic").text("c");
    t.append("tspan").attr("font-style", "italic").attr("font-size", "7px").attr("dy", 2).text("ice");
    t.append("tspan").attr("dy", -2).text(")");
  }
});
</script>
</body>
</html>
